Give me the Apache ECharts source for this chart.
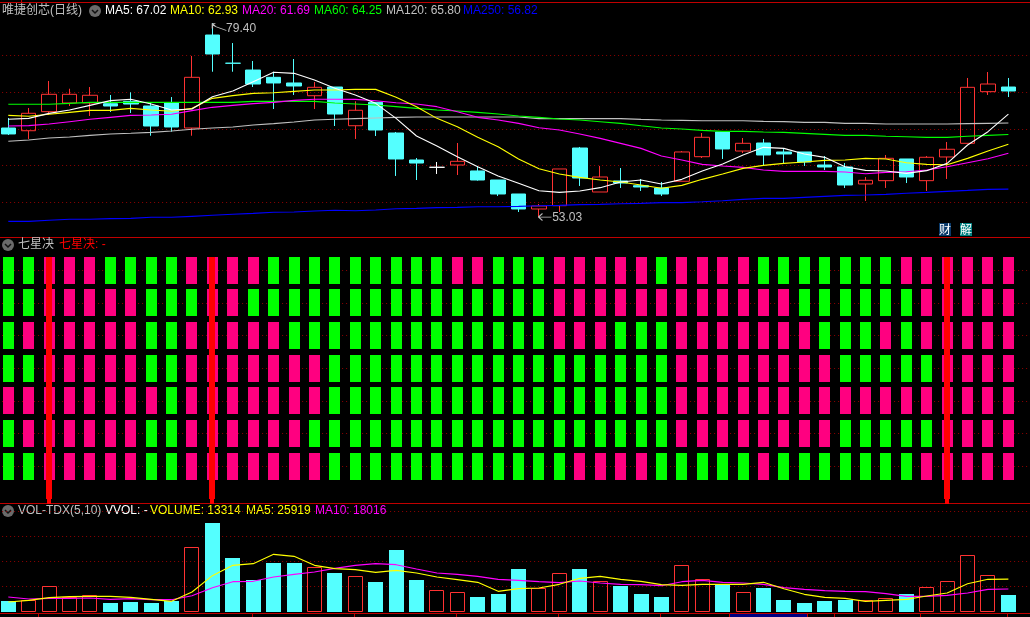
<!DOCTYPE html>
<html>
<head>
<meta charset="utf-8">
<style>
html,body{margin:0;padding:0;background:#000;}
#main{width:1030px;height:617px;}
</style>
<script src="https://cdn.jsdelivr.net/npm/echarts@6/dist/echarts.min.js"></script>
</head>
<body>
<div id="main"></div>
<script>
// 50 trading days, the 51st slot is empty so the dotted lines run to the right edge
var days = [];
for (var d = 1; d <= 51; d++) days.push('D' + d);

// open, close, low, high
var candles = [
  [65.13,64.32,64.18,66.49],[64.76,67.13,63.64,67.85],[67.35,69.71,66.90,71.52],[68.53,69.71,68.12,70.47],[68.53,69.58,66.76,70.70],
  [68.43,68.12,67.31,69.62],[68.76,68.39,67.17,69.98],[68.12,65.40,64.08,68.53],[68.53,65.27,64.63,69.34],[65.13,72.02,64.08,74.92],
  [77.77,75.19,72.78,79.40],[73.94,73.93,72.78,76.68],[73.01,71.11,70.70,74.24],[72.02,71.25,67.71,72.78],[71.25,70.84,69.62,74.51],
  [69.52,70.66,67.71,71.38],[70.70,67.03,65.40,70.70],[65.44,67.54,63.64,68.76],[68.62,64.86,64.04,68.62],[64.45,60.92,58.61,64.59],
  [60.78,60.37,58.06,61.05],[59.79,59.79,58.88,60.51],[60.10,60.60,58.74,63.09],[59.29,58.06,57.97,59.97],[58.06,56.16,55.89,58.06],
  [56.16,54.12,53.71,56.16],[54.12,54.53,53.03,54.80],[54.57,59.56,53.71,59.56],[62.41,58.33,57.25,62.55],[56.43,58.47,56.43,59.97],
  [57.93,57.65,56.98,59.69],[57.29,57.11,56.57,58.20],[56.98,56.16,55.89,57.79],[57.89,61.87,57.89,62.00],[61.23,63.87,61.05,64.45],
  [64.59,62.28,60.92,64.59],[62.00,63.05,61.73,63.77],[63.09,61.46,60.10,63.64],[61.87,61.60,60.37,62.41],[61.87,60.51,59.97,61.87],
  [60.10,59.83,59.42,61.32],[59.83,57.38,56.98,60.37],[57.52,58.02,55.21,58.47],[57.97,61.01,56.98,61.46],[60.92,58.47,57.65,60.92],
  [57.97,61.15,56.57,61.32],[61.19,62.24,58.20,63.23],[63.05,70.66,63.05,71.93],[70.07,71.11,69.62,72.74],[70.70,70.16,69.34,71.93]
];
var ma5 = [66.31,66.44,67.12,67.58,68.21,68.85,69.03,68.39,67.58,67.71,69.39,70.16,71.43,72.70,72.56,71.66,70.52,
  69.61,68.48,66.44,64.04,62.68,61.23,59.87,58.60,57.61,56.61,56.38,56.56,57.02,57.79,58.06,57.51,58.15,
  59.28,60.23,61.46,62.50,62.36,61.59,61.14,59.87,59.37,59.28,58.96,59.33,60.32,62.82,64.63,67.02];
var ma10 = [66.85,66.72,66.99,67.26,67.53,67.53,67.80,67.58,67.40,67.80,69.16,69.53,69.84,69.93,70.11,70.30,70.30,
  70.38,70.38,69.30,68.03,66.44,65.31,63.86,62.59,60.91,59.60,58.87,58.42,58.06,57.79,57.38,56.93,57.33,
  58.15,58.87,59.64,60.05,60.32,60.50,60.73,60.78,61.00,60.91,60.41,60.19,60.14,61.00,62.00,62.93];
var ma20 = [65.40,65.45,65.67,65.99,66.31,66.58,66.85,66.90,66.99,67.49,67.94,68.21,68.44,68.62,68.89,69.03,69.03,
  69.02,68.84,68.57,68.39,68.03,67.35,66.58,66.21,65.76,65.17,64.86,64.31,63.72,63.04,62.36,61.32,60.78,
  60.19,59.96,59.78,59.42,59.24,59.24,59.24,59.15,58.92,59.10,59.19,59.42,59.87,60.41,60.96,61.69];
var ma60 = [68.35,68.35,68.35,68.48,68.62,68.62,68.62,68.62,68.62,68.62,68.62,68.62,68.75,68.75,68.75,68.75,68.53,
  68.39,68.25,68.03,67.80,67.57,67.44,67.26,67.03,66.76,66.58,66.35,66.21,65.99,65.76,65.44,65.13,64.99,
  64.81,64.67,64.67,64.58,64.54,64.40,64.27,64.13,64.13,64.00,63.95,63.86,63.86,64.00,64.13,64.25];
var ma120 = [63.32,63.50,63.77,63.91,64.13,64.31,64.41,64.54,64.72,64.95,65.13,65.27,65.54,65.72,65.95,66.22,66.31,
  66.40,66.49,66.58,66.62,66.62,66.62,66.62,66.62,66.62,66.40,66.40,66.40,66.40,66.40,66.30,66.21,66.17,
  66.12,66.12,66.12,66.03,65.99,65.90,65.90,65.76,65.76,65.67,65.67,65.67,65.67,65.72,65.76,65.80];
var ma250 = [52.44,52.44,52.58,52.72,52.72,52.81,52.85,52.99,52.99,53.12,53.26,53.40,53.53,53.67,53.71,53.85,53.94,
  53.89,53.98,54.16,54.21,54.30,54.34,54.43,54.43,54.48,54.57,54.61,54.71,54.75,54.84,54.89,54.98,54.98,
  55.11,55.25,55.43,55.57,55.57,55.70,55.84,55.97,56.02,56.11,56.25,56.38,56.52,56.65,56.79,56.82];

// seven signal rows, top row first. G green, P pink
var signalRows = [
  'GGPPPGGGGPPPPGGGG' + 'GGGGGPPGGGPPPPPGP' + 'PPPGGGGGGGPPPPPP',
  'GGPPPPPGGGPPGGGGG' + 'GGGGGGGGGGPPPPPPP' + 'PPPPPGGGGGGPPPPP',
  'GPPPPPPGGPPPPPGGG' + 'GGGGGGGGGGPPPGGGP' + 'PPPPPPGGGPGPPPPP',
  'GGPPPPPGGPPPPPPPG' + 'GGGGGGGGGGGGGGGGP' + 'PPPPPPPGGGGGPPPP',
  'PPPPPPPPGPPPPPPPG' + 'GGGGGGGGGGGGGGGGP' + 'PPPPPPPPPPPPPPPP',
  'GPPPPPPGGPPPPPPGG' + 'GGGGGGGGGGGGGGGGP' + 'PPPPPPPGGGGGPPPP',
  'GGPPPPPGGPPPPPPPG' + 'GGGGGGGGGGGPPPPGG' + 'GGGPGGGGGGGPPPPP'
];
var stickDays = [2, 10, 46];
var stickTop = 7.41;

var volume = [8400,9200,20130,11600,12930,6800,7600,6800,8400,51330,70800,42800,25200,38800,38800,35330,30800,
  28130,23600,49200,25200,17200,15330,11600,14000,34000,19070,30530,34000,24130,20400,14000,11600,36930,
  25730,21200,15330,18800,9200,6800,8400,9200,8930,10530,14000,19600,24130,44930,28930,13314];
var volMa5 = [7600,8933,11067,11867,12133,12133,11333,9733,8133,15600,28667,36933,38267,45733,44133,36933,34267,
  33467,31333,32933,30800,27600,25467,23333,16133,18267,18800,21733,26533,28133,25733,24133,21467,20933,
  21733,21733,21733,23333,18267,13733,11333,10533,8133,8933,9733,12400,14800,22267,25733,25919];
var volMa10 = [11600,10000,10533,10533,10800,9733,10267,9467,9467,12667,19067,23867,24133,27600,29733,31600,34533,
  36933,38267,37467,34000,30800,29733,28133,25733,24933,23867,23067,24400,22800,21733,21467,20667,23867,
  24933,23333,22800,21733,19067,17733,16667,16133,15867,14267,12133,12133,12933,14800,17733,18016];

var RED = '#ff3232', CYAN = '#54ffff', GREEN = '#00ff00', PINK = '#ff0080', GRIDRED = '#900000', BORDER = '#c00000';
var FONT = '"Liberation Sans", "Noto Sans CJK SC", sans-serif';

function lineSeries(name, data, color, xIdx, yIdx) {
  return {
    name: name, type: 'line', data: data, xAxisIndex: xIdx, yAxisIndex: yIdx,
    showSymbol: false, silent: true, animation: false, z: 4,
    lineStyle: { color: color, width: 1.1 }
  };
}

// one [day, rowValue, isGreen] per signal cell
var signalCells = [];
signalRows.forEach(function (row, r) {
  for (var i = 0; i < row.length; i++) signalCells.push([i, 7 - r, row[i] === 'G' ? 1 : 0]);
});

// custom rects are snapped to whole pixels so the edges stay hard
function renderSignal(params, api) {
  var c = api.coord([api.value(0), api.value(1)]);
  return { type: 'rect',
    shape: { x: Math.round(c[0] - 5.5), y: Math.round(c[1] - 13.5), width: 11, height: 27 },
    style: { fill: api.value(2) ? GREEN : PINK } };
}
function renderStick(params, api) {
  var top = api.coord([api.value(0), api.value(1)]);
  var base = api.coord([api.value(0), 0]);
  var x = Math.round(top[0] - 3), y0 = Math.round(top[1]), y1 = Math.round(base[1]);
  return { type: 'group', children: [
    { type: 'rect', shape: { x: x, y: y0, width: 6, height: y1 - y0 }, style: { fill: '#ff0000' } },
    { type: 'rect', shape: { x: x + 1, y: y1, width: 4, height: 5 }, style: { fill: '#ff0000' } }
  ] };
}
function renderVolume(params, api) {
  var top = api.coord([api.value(0), api.value(1)]);
  var base = api.coord([api.value(0), 0]);
  var x = Math.round(top[0] - 7.5), y0 = Math.round(top[1]), y1 = Math.ceil(base[1]);
  if (api.value(2)) {
    return { type: 'rect', shape: { x: x + 0.5, y: y0 + 0.5, width: 14, height: y1 - y0 - 1 },
      style: { fill: 'none', stroke: RED, lineWidth: 1 } };
  }
  return { type: 'rect', shape: { x: x, y: y0, width: 15, height: y1 - y0 }, style: { fill: CYAN } };
}

// header text with the small round button
function label(x, y, text, color) {
  return { type: 'text', x: x, y: y, silent: true,
    style: { text: text, fill: color, font: '12px ' + FONT, textVerticalAlign: 'middle' } };
}
function button(x, y) {
  return { type: 'group', x: x, y: y, silent: true, children: [
    { type: 'circle', shape: { r: 6 }, style: { fill: '#6a6a6a' } },
    { type: 'polyline', shape: { points: [[-3, -1], [0, 2], [3, -1]] }, style: { stroke: '#111', lineWidth: 1.5, fill: null } }
  ] };
}
function hline(y) {
  return { type: 'rect', silent: true, shape: { x: 0, y: y, width: 1030, height: 1 }, style: { fill: BORDER } };
}
function timeTick(x) {
  return { type: 'rect', silent: true, shape: { x: x, y: 614, width: 1, height: 3 }, style: { fill: BORDER } };
}
function badge(x, text, bg) {
  return { type: 'group', x: x, y: 223, silent: true, children: [
    { type: 'rect', shape: { x: 0, y: 0, width: 12, height: 13 }, style: { fill: bg } },
    { type: 'text', x: 0, y: 0, style: { text: text, fill: '#fff', font: '12px "Noto Sans CJK SC", sans-serif' } }
  ] };
}

var arrowUp = 'path://M0 5L0 0L3 0M0 0L3 3L14 7';
var arrowLeft = 'path://M0 4L4 1M0 4L4 7M0 4L13 4';

var gridBase = { left: -1.9, width: 1040.9, outerBoundsMode: 'none', containLabel: false };
var chart = echarts.init(document.getElementById('main'), null, { renderer: 'canvas' });
chart.setOption({
  backgroundColor: '#000',
  animation: false,
  grid: [
    Object.assign({ top: 19.35, height: 219.95 }, gridBase),
    Object.assign({ top: 237.6, height: 261.4 }, gridBase),
    Object.assign({ top: 504, height: 107.5 }, gridBase)
  ],
  xAxis: [0, 1, 2].map(function (i) {
    return { type: 'category', gridIndex: i, data: days, show: false, boundaryGap: true };
  }),
  yAxis: [
    { gridIndex: 0, type: 'value', min: 50, max: 79.9, interval: 5 },
    { gridIndex: 1, type: 'value', min: 0, max: 8, interval: 1 },
    { gridIndex: 2, type: 'value', min: 0, max: 86000, interval: 20000 }
  ].map(function (a) {
    a.axisLine = { show: false };
    a.axisTick = { show: false };
    a.axisLabel = { show: false };
    a.splitLine = { show: true, showMinLine: false, showMaxLine: false,
      lineStyle: { color: GRIDRED, width: 1, type: [1, 3] } };
    return a;
  }),
  series: [
    {
      type: 'candlestick', name: 'K', xAxisIndex: 0, yAxisIndex: 0, data: candles,
      barWidth: 15, silent: true, animation: false, z: 3,
      itemStyle: { color: 'transparent', color0: CYAN, borderColor: RED, borderColor0: CYAN,
        borderColorDoji: '#fff', borderWidth: 1 },
      markPoint: {
        silent: true, animation: false,
        data: [
          { coord: [10, 79.40], symbol: arrowUp, symbolSize: [14, 7], symbolOffset: [7, 4],
            itemStyle: { color: 'transparent', borderColor: '#c0c0c0', borderWidth: 1 },
            label: { show: true, formatter: '79.40', position: 'right', distance: 1, offset: [-2, 2], color: '#c0c0c0', fontSize: 12, fontFamily: FONT } },
          { coord: [26, 53.03], symbol: arrowLeft, symbolSize: [13, 7], symbolOffset: [6, 0],
            itemStyle: { color: 'transparent', borderColor: '#c0c0c0', borderWidth: 1 },
            label: { show: true, formatter: '53.03', position: 'right', distance: 1, offset: [-1, 1], color: '#c0c0c0', fontSize: 12, fontFamily: FONT } }
        ]
      }
    },
    lineSeries('MA250', ma250, '#0000ff', 0, 0),
    lineSeries('MA120', ma120, '#c0c0c0', 0, 0),
    lineSeries('MA60', ma60, '#00ff00', 0, 0),
    lineSeries('MA20', ma20, '#ff00ff', 0, 0),
    lineSeries('MA10', ma10, '#ffff00', 0, 0),
    lineSeries('MA5', ma5, '#ffffff', 0, 0),

    {
      type: 'custom', name: 'signals', xAxisIndex: 1, yAxisIndex: 1, silent: true, animation: false, z: 3,
      data: signalCells, encode: { x: 0, y: 1 }, renderItem: renderSignal
    },
    {
      type: 'custom', name: 'sticks', xAxisIndex: 1, yAxisIndex: 1, silent: true, animation: false, z: 6,
      data: stickDays.map(function (i) { return [i, stickTop]; }), encode: { x: 0, y: 1 }, renderItem: renderStick
    },

    {
      type: 'custom', name: 'VOLUME', xAxisIndex: 2, yAxisIndex: 2, silent: true, animation: false, z: 3,
      data: volume.map(function (v, i) { return [i, v, candles[i][1] >= candles[i][0] ? 1 : 0]; }),
      encode: { x: 0, y: 1 }, renderItem: renderVolume
    },
    lineSeries('VMA10', volMa10, '#ff00ff', 2, 2),
    lineSeries('VMA5', volMa5, '#ffff00', 2, 2)
  ],
  graphic: [
    hline(2), hline(237), hline(503), hline(613),
    { type: 'rect', silent: true, shape: { x: 21, y: 0, width: 1, height: 2 }, style: { fill: BORDER } },

    label(2, 11, '唯捷创芯(日线)', '#c0c0c0'),
    button(95, 11),
    label(105, 11, 'MA5: 67.02', '#ffffff'),
    label(170, 11, 'MA10: 62.93', '#ffff00'),
    label(242, 11, 'MA20: 61.69', '#ff00ff'),
    label(314, 11, 'MA60: 64.25', '#00ff00'),
    label(386, 11, 'MA120: 65.80', '#c0c0c0'),
    label(463, 11, 'MA250: 56.82', '#0000ff'),

    button(8, 245),
    label(18, 245, '七星决', '#c0c0c0'),
    label(59, 245, '七星决: -', '#ff0000'),

    button(8, 511),
    label(18, 511, 'VOL-TDX(5,10)', '#c0c0c0'),
    label(105, 511, 'VVOL: -', '#ffffff'),
    label(150, 511, 'VOLUME: 13314', '#ffff00'),
    label(246, 511, 'MA5: 25919', '#ffff00'),
    label(315, 511, 'MA10: 18016', '#ff00ff'),

    badge(939, '财', '#0a3a6a'),
    badge(960, '解', '#008080'),

    { type: 'rect', silent: true, shape: { x: 730, y: 614, width: 77, height: 3 }, style: { fill: '#000080' } },
    timeTick(38), timeTick(252), timeTick(354), timeTick(456), timeTick(558), timeTick(660),
    timeTick(729), timeTick(807), timeTick(834), timeTick(920), timeTick(1007)
  ]
});
</script>
</body>
</html>
